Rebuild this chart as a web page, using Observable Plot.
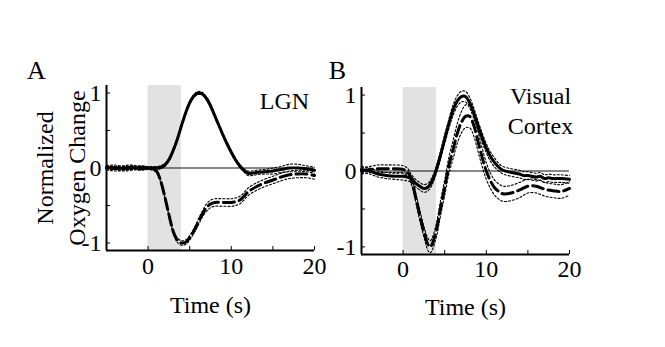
<!DOCTYPE html>
<html>
<head>
<meta charset="utf-8">
<script src="https://cdn.jsdelivr.net/npm/d3@7"></script>
<script src="https://cdn.jsdelivr.net/npm/@observablehq/plot@0.6"></script>
<style>
  html, body { margin: 0; padding: 0; background: #fff; }
  #root { position: relative; width: 665px; height: 347px; background: #fff; overflow: hidden; }
  #root > div { position: absolute; top: 0; }
</style>
</head>
<body>
<div id="root"><div id="pa" style="left:0"></div><div id="pb" style="left:330px"></div></div>
<script>
// ---- Data ----
const xDomain = [-5, 20];
const yDomain = [-1.1, 1.1];
const xTickLabels = [0, 10, 20];
const xTicksAll = [-5, 0, 5, 10, 15, 20];
const yTickLabels = [-1, 0, 1];
const yTicksAll = [-1, -0.5, 0, 0.5, 1];
const stimulus = [0, 4];

// Panel A: LGN
const tA_solid = [-5,-4,-3,-2,-1,0,1,1.5,2,2.5,3,3.5,4,4.5,5,5.5,6,6.5,7,7.5,8,8.5,9,9.5,10,10.5,11,11.5,12,12.5,13,14,15,16,17,18,19,20];
const vA_solid = [0.01,-0.01,0,0.01,-0.01,0,0,0.01,0.04,0.11,0.23,0.38,0.56,0.73,0.87,0.96,1.0,0.99,0.93,0.83,0.7,0.57,0.44,0.32,0.21,0.11,0.03,-0.03,-0.07,-0.07,-0.06,-0.05,-0.04,-0.02,0,0,-0.01,-0.03];
const eA_solid = [0.03,0.03,0.03,0.03,0.02,0.02,0.02,0.02,0.02,0.02,0.02,0.02,0.02,0.02,0.02,0.02,0.02,0.02,0.02,0.02,0.02,0.02,0.02,0.02,0.02,0.02,0.02,0.02,0.03,0.03,0.03,0.03,0.04,0.04,0.05,0.05,0.04,0.04];

const tA_dash = [-5,-4,-3,-2,-1,0,0.5,1,1.5,2,2.5,3,3.5,4,4.5,5,5.5,6,6.5,7,7.5,8,9,10,10.5,11,11.5,12,13,14,15,16,17,18,19,20];
const vA_dash = [0,0.01,-0.01,0,0.01,0,-0.01,-0.04,-0.17,-0.38,-0.62,-0.84,-0.96,-1.0,-0.99,-0.93,-0.84,-0.73,-0.62,-0.53,-0.48,-0.46,-0.46,-0.46,-0.45,-0.43,-0.38,-0.32,-0.25,-0.2,-0.16,-0.12,-0.09,-0.08,-0.08,-0.1];
const eA_dash = [0.03,0.03,0.03,0.03,0.02,0.02,0.02,0.02,0.02,0.02,0.02,0.02,0.03,0.03,0.03,0.03,0.03,0.04,0.04,0.05,0.05,0.05,0.05,0.05,0.05,0.05,0.05,0.05,0.05,0.05,0.05,0.05,0.05,0.05,0.05,0.05];

// Panel B: Visual Cortex
const tB_solid = [-5,-4.5,-4,-3.5,-3,-2.5,-2,-1,0,0.5,1,1.5,2,2.5,3,3.5,4,4.5,5,5.5,6,6.5,7,7.5,8,8.5,9,9.5,10,10.5,11,11.5,12,13,14,14.5,15,16,16.5,17,17.5,18,19,20];
const vB_solid = [0.02,0.01,0,-0.02,-0.04,-0.05,-0.06,-0.07,-0.07,-0.08,-0.1,-0.16,-0.2,-0.23,-0.21,-0.13,0.02,0.21,0.42,0.62,0.8,0.92,0.98,0.98,0.9,0.76,0.6,0.44,0.3,0.19,0.11,0.05,0.01,-0.02,-0.04,-0.06,-0.06,-0.08,-0.07,-0.1,-0.09,-0.1,-0.1,-0.11];
const eB_solid = [0.04,0.04,0.04,0.04,0.04,0.04,0.04,0.04,0.05,0.05,0.05,0.05,0.05,0.05,0.05,0.05,0.05,0.05,0.06,0.06,0.07,0.07,0.07,0.07,0.07,0.07,0.06,0.06,0.06,0.06,0.06,0.05,0.05,0.05,0.05,0.05,0.05,0.05,0.05,0.05,0.05,0.05,0.05,0.05];

const tB_dash = [-5,-4,-3,-2,-1,0,0.5,1,1.5,2,2.5,3,3.25,3.5,4,4.5,5,5.5,6,6.5,7,7.5,8,8.5,9,9.5,10,10.5,11,11.5,12,13,14,15,16,17,18,19,20];
const vB_dash = [0,0.02,0.03,0.03,0.03,0.02,-0.01,-0.12,-0.34,-0.58,-0.8,-0.97,-1.0,-0.96,-0.78,-0.49,-0.22,0.07,0.28,0.49,0.64,0.72,0.72,0.6,0.39,0.18,0,-0.13,-0.22,-0.27,-0.3,-0.29,-0.25,-0.2,-0.2,-0.24,-0.26,-0.27,-0.23];
const eB_dash = [0.04,0.04,0.05,0.05,0.05,0.05,0.05,0.06,0.06,0.07,0.07,0.08,0.08,0.08,0.09,0.1,0.1,0.11,0.12,0.13,0.14,0.15,0.15,0.14,0.13,0.12,0.11,0.1,0.1,0.1,0.1,0.1,0.1,0.09,0.09,0.09,0.09,0.09,0.09];

// ---- Helpers ----
const rows = (t, v, e) => t.map((ti, i) => ({t: ti, v: v[i], lo: v[i] - e[i], hi: v[i] + e[i]}));
const FONT = "'Liberation Serif', 'Times New Roman', serif";
const fmt = d => String(d);

function panel({width, margins, series, letter, letterDx, letterDy, region, regionDx, regionDy, regionLH, yLabel, timeDy, xPad}) {
  const [mt, mr, mb, ml] = margins;
  const marks = [
    Plot.rect([stimulus], {x1: d => d[0], x2: d => d[1], fill: "#e2e2e2"}),
    Plot.ruleY([0], {stroke: "#111", strokeWidth: 1})
  ];
  for (const s of series) {
    marks.push(Plot.line(s.data, {x: "t", y: "lo", curve: "catmull-rom", stroke: "#000", strokeWidth: 1.1, strokeDasharray: "2,2"}));
    marks.push(Plot.line(s.data, {x: "t", y: "hi", curve: "catmull-rom", stroke: "#000", strokeWidth: 1.1, strokeDasharray: "2,2"}));
  }
  for (const s of series) {
    marks.push(Plot.line(s.data, {x: "t", y: "v", curve: "catmull-rom", stroke: "#000", strokeWidth: 3, strokeDasharray: s.dash}));
  }
  marks.push(
    Plot.ruleX([xDomain[0]], {stroke: "#000", strokeWidth: 2}),
    Plot.ruleY([yDomain[0]], {stroke: "#000", strokeWidth: 2}),
    Plot.axisY({ticks: yTicksAll, tickSize: -4, text: null, label: null, strokeWidth: 1}),
    Plot.axisX({ticks: xTicksAll, tickSize: -4, text: null, label: null, strokeWidth: 1}),
    Plot.axisY({ticks: yTickLabels, tickSize: 0, tickPadding: 5, tickFormat: fmt, fontSize: 24, label: null, fontFamily: FONT}),
    Plot.axisX({ticks: xTickLabels, tickSize: 0, tickPadding: xPad, tickFormat: fmt, fontSize: 24, label: null, fontFamily: FONT}),
    Plot.text([letter], {frameAnchor: "top-left", dx: letterDx, dy: letterDy, textAnchor: "middle", lineAnchor: "middle", fontSize: 26, fontFamily: FONT}),
    Plot.text([region], {frameAnchor: "top-right", dx: regionDx, dy: regionDy, textAnchor: "middle", lineAnchor: "middle", fontSize: 24, lineHeight: regionLH, fontFamily: FONT}),
    Plot.text(["Time (s)"], {frameAnchor: "bottom", dy: timeDy, textAnchor: "middle", lineAnchor: "middle", fontSize: 24, fontFamily: FONT})
  );
  if (yLabel) {
    marks.push(Plot.text([yLabel], {frameAnchor: "left", dx: -48, rotate: -90, textAnchor: "middle", lineAnchor: "middle", fontSize: 24, lineHeight: 1.33, fontFamily: FONT}));
  }
  return Plot.plot({
    width, height: 347,
    marginTop: mt, marginRight: mr, marginBottom: mb, marginLeft: ml,
    x: {domain: xDomain, axis: null},
    y: {domain: yDomain, axis: null},
    style: {fontFamily: FONT, fontSize: "24px", color: "#000", background: "transparent", overflow: "visible"},
    marks
  });
}

document.getElementById("pa").appendChild(panel({
  width: 330, margins: [85, 16, 97, 106],
  series: [{data: rows(tA_solid, vA_solid, eA_solid), dash: null}, {data: rows(tA_dash, vA_dash, eA_dash), dash: "11,5"}],
  letter: "A", letterDx: -70, letterDy: -15,
  region: "LGN", regionDx: -30, regionDy: 16, regionLH: 1,
  yLabel: "Normalized\nOxygen Change", timeDy: 55, xPad: 6
}));
document.getElementById("pb").appendChild(panel({
  width: 335, margins: [87, 96, 93, 31],
  series: [{data: rows(tB_solid, vB_solid, eB_solid), dash: null}, {data: rows(tB_dash, vB_dash, eB_dash), dash: "11,5"}],
  letter: "B", letterDx: -24, letterDy: -17,
  region: "Visual\nCortex", regionDx: -29, regionDy: 22, regionLH: 1.25,
  yLabel: null, timeDy: 53, xPad: 5
}));
</script>
</body>
</html>
